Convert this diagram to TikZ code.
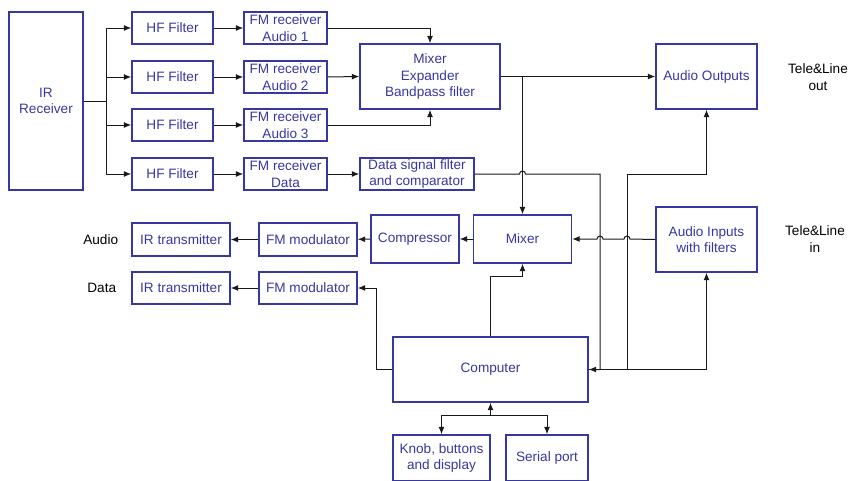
\documentclass[tikz,border=0pt]{standalone}
\usepackage{fontspec}
\setmainfont{Liberation Sans}
\usepackage{tikz}
\usetikzlibrary{arrows.meta,positioning}
\definecolor{boxblue}{RGB}{55, 55, 162}
\definecolor{wire}{RGB}{25, 25, 25}
\tikzstyle{block} = [rectangle, draw=boxblue, line width=1.4pt, text=boxblue, align=center, inner sep=0pt, font=\fontsize{13.6}{16.3}\selectfont]
\tikzstyle{sidetext} = [text=black, align=center, inner sep=0pt, font=\fontsize{13.6}{16.3}\selectfont]
\tikzstyle{tedge}  = [draw=wire, line width=1pt, >={Latex[length=7.5pt,width=6pt]}, ->]
\tikzstyle{wireline}  = [draw=wire, line width=1pt]

\begin{document}
\begin{tikzpicture}[x=1pt, y=-1pt]
\useasboundingbox (0,0) rectangle (852,480);
\clip (0,0) rectangle (852,480);

% receiver side =============================
\node[block, minimum width=74pt, minimum height=178pt] (irrx) at (46,101) {IR\\Receiver};

\node[block, minimum width=81pt, minimum height=32pt] (hf1) at (172.5,28) {HF Filter};
\node[block, minimum width=81pt, minimum height=32pt] (hf2) at (172.5,77) {HF Filter};
\node[block, minimum width=81pt, minimum height=32pt] (hf3) at (172.5,125) {HF Filter};
\node[block, minimum width=81pt, minimum height=32pt] (hf4) at (172.5,174) {HF Filter};

\node[block, minimum width=83pt, minimum height=32pt] (fm1) at (285.5,28) {FM receiver\\Audio 1};
\node[block, minimum width=83pt, minimum height=32pt] (fm2) at (285.5,77) {FM receiver\\Audio 2};
\node[block, minimum width=83pt, minimum height=32pt] (fm3) at (285.5,125) {FM receiver\\Audio 3};
\node[block, minimum width=83pt, minimum height=32pt] (fm4) at (285.5,174) {FM receiver\\Data};

\node[block, minimum width=140pt, minimum height=65pt] (mixexp) at (430,76.5) {Mixer\\Expander\\Bandpass filter};
\node[block, minimum width=114pt, minimum height=32pt] (dsf) at (417,174) {Data signal filter\\and comparator};

% outputs and inputs
\node[block, minimum width=101pt, minimum height=65pt] (aout) at (706.5,76.5) {Audio Outputs};
\node[block, minimum width=101pt, minimum height=65pt] (ain) at (706.5,239.5) {Audio Inputs\\with filters};
\node[sidetext] (telout) at (818,77) {Tele\&Line\\out};
\node[sidetext] (telin) at (815,239) {Tele\&Line\\in};

% transmitter side
\node[block, minimum width=98pt, minimum height=48pt] (mixer) at (522.5,239) {Mixer};
\node[block, minimum width=88pt, minimum height=48pt] (comp) at (415,239) {Compressor};
\node[block, minimum width=98pt, minimum height=33pt] (fmm1) at (308,239.5) {FM modulator};
\node[block, minimum width=98pt, minimum height=32pt] (fmm2) at (308,288) {FM modulator};
\node[block, minimum width=98pt, minimum height=33pt] (irt1) at (181,239.5) {IR transmitter};
\node[block, minimum width=98pt, minimum height=32pt] (irt2) at (181,288) {IR transmitter};
\node[sidetext, left=13pt of irt1] (audiotxt) {Audio};
\node[sidetext, left=15pt of irt2] (datatxt) {Data};

% control
\node[block, minimum width=195pt, minimum height=65pt] (cpu) at (490.5,369.5) {Computer};
\node[block, minimum width=97pt, minimum height=46pt] (knob) at (441.5,458) {Knob, buttons\\and display};
\node[block, minimum width=82pt, minimum height=46pt] (serial) at (547,458) {Serial port};

\coordinate (fork) at (106,101);
\coordinate (split) at (522.5,76.5);
\coordinate (tap) at (627,369.5);
\coordinate (bus) at (490.5,415);

%edges
\path[wireline] (irrx.east) -- (fork);
\path[tedge] (fork) |- (hf1.west);
\path[tedge] (fork) |- (hf2.west);
\path[tedge] (fork) |- (hf3.west);
\path[tedge] (fork) |- (hf4.west);

\path[tedge] (hf1) -- (fm1);
\path[tedge] (hf2) -- (fm2);
\path[tedge] (hf3) -- (fm3);
\path[tedge] (hf4) -- (fm4);

\path[tedge] (fm1.east) -| (mixexp.north);
\path[tedge] (fm2.east) -- (mixexp.west);
\path[tedge] (fm3.east) -| (mixexp.south);
\path[tedge] (fm4) -- (dsf);

\path[tedge] (mixexp.east) -- (aout.west);
\path[tedge] (split) -- (mixer.north);

\path[tedge] (dsf.east) -- (519.5,174) arc[start angle=180, end angle=360, radius=3] -- (600,174) |- (cpu.east);
\path[tedge] (tap) |- (627,174) -| (aout.south);
\path[tedge] (cpu.east) -| (ain.south);
\path[tedge] (ain.west) -- (630,239) arc[start angle=0, end angle=-180, radius=3] -- (603,239) arc[start angle=0, end angle=-180, radius=3] -- (mixer.east);

\path[tedge] (mixer) -- (comp);
\path[tedge] (comp) -- (fmm1);
\path[tedge] (fmm1) -- (irt1);
\path[tedge] (fmm2) -- (irt2);

\path[tedge] (cpu.north) -- (490.5,276) -| (mixer.south);
\path[tedge] (cpu.west) -- (376,369.5) |- (fmm2.east);

\path[tedge] (bus) -- (cpu.south);
\path[tedge] (bus) -| (knob.north);
\path[tedge] (bus) -| (serial.north);

\end{tikzpicture}
\end{document}
